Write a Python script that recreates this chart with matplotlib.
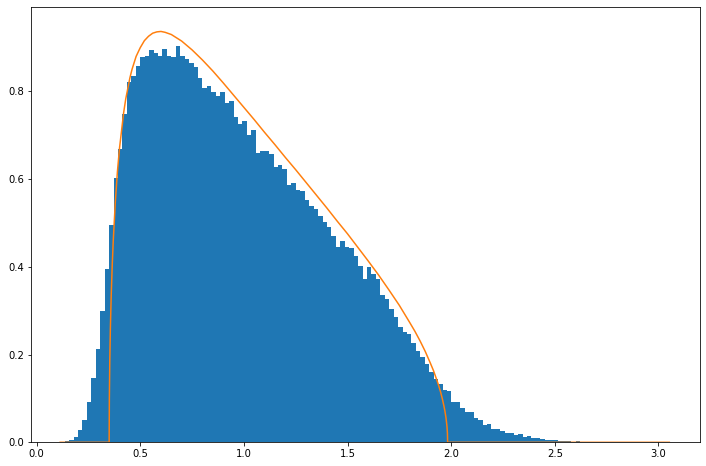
import numpy as np
import matplotlib
matplotlib.use("Agg")
import matplotlib.pyplot as plt

# Histogram: bin range and density heights
x_min = 0.1138
x_max = 3.0525
n_bins = 137
heights = [
    0.0005, 0.002, 0.005, 0.011, 0.028, 0.051, 0.092, 0.146, 0.212, 0.299,
    0.395, 0.495, 0.602, 0.668, 0.748, 0.820, 0.834, 0.857, 0.878, 0.880,
    0.894, 0.887, 0.880, 0.896, 0.880, 0.878, 0.903, 0.880, 0.874, 0.865,
    0.855, 0.831, 0.807, 0.811, 0.799, 0.788, 0.798, 0.773, 0.777, 0.740,
    0.725, 0.732, 0.700, 0.711, 0.659, 0.664, 0.664, 0.657, 0.627, 0.632,
    0.623, 0.586, 0.591, 0.575, 0.572, 0.552, 0.538, 0.531, 0.515, 0.502,
    0.490, 0.470, 0.444, 0.459, 0.445, 0.443, 0.424, 0.402, 0.372, 0.400,
    0.384, 0.371, 0.336, 0.326, 0.304, 0.285, 0.263, 0.251, 0.247, 0.226,
    0.208, 0.194, 0.178, 0.160, 0.144, 0.133, 0.119, 0.117, 0.092, 0.092,
    0.078, 0.069, 0.069, 0.055, 0.051, 0.039, 0.041, 0.030, 0.030, 0.026,
    0.021, 0.021, 0.017, 0.019, 0.013, 0.014, 0.010, 0.009, 0.0075, 0.006,
    0.005, 0.005, 0.002, 0.004, 0.002, 0.001, 0.004, 0.001, 0.0005, 0.001,
    0.0005, 0.001, 0.0005, 0.0005, 0.001, 0.0005, 0.0005, 0.0005, 0.0005, 0.0005,
    0.0005, 0.0005, 0.0005, 0.0005, 0.0005, 0.0005, 0.0005,
]

# Density curve points
curve_x = [0.1138, 0.350, 0.351, 0.353, 0.356, 0.360, 0.365, 0.370, 0.380, 0.390,
           0.400, 0.420, 0.430, 0.450, 0.460, 0.480, 0.500, 0.520, 0.540, 0.560,
           0.580, 0.600, 0.620, 0.650, 0.700, 0.750, 0.800, 0.850, 0.900, 0.950,
           1.000, 1.050, 1.100, 1.150, 1.200, 1.250, 1.300, 1.350, 1.400, 1.450,
           1.500, 1.550, 1.600, 1.650, 1.700, 1.750, 1.800, 1.825, 1.850, 1.875,
           1.900, 1.915, 1.930, 1.940, 1.950, 1.958, 1.965, 1.970, 1.975, 1.978,
           1.980, 1.982, 1.983, 3.0525]
curve_y = [0.0, 0.0, 0.098, 0.183, 0.261, 0.335, 0.405, 0.461, 0.549, 0.617,
           0.670, 0.751, 0.782, 0.830, 0.849, 0.879, 0.899, 0.915, 0.925, 0.932,
           0.935, 0.936, 0.934, 0.929, 0.914, 0.894, 0.871, 0.846, 0.819, 0.791,
           0.763, 0.735, 0.706, 0.678, 0.649, 0.621, 0.592, 0.563, 0.534, 0.504,
           0.475, 0.444, 0.413, 0.381, 0.347, 0.312, 0.273, 0.253, 0.231, 0.207,
           0.180, 0.163, 0.143, 0.129, 0.113, 0.098, 0.083, 0.071, 0.056, 0.044,
           0.035, 0.021, 0.0, 0.0]

fig = plt.figure(figsize=(706 / 72, 466 / 72), dpi=72)
ax = fig.add_axes([31 / 706, (466 - 442.3) / 466, (700.3 - 31) / 706, (442.3 - 7.3) / 466])

edges = np.linspace(x_min, x_max, n_bins + 1)
ax.hist(edges[:-1], bins=edges, weights=heights, color="#1f77b4")
ax.plot(curve_x, curve_y, color="#ff7f0e", linewidth=1.5)

ax.set_xlim(-0.027, 3.202)
ax.set_ylim(0, 0.991)
ax.set_xticks([0.0, 0.5, 1.0, 1.5, 2.0, 2.5, 3.0])
ax.set_yticks([0.0, 0.2, 0.4, 0.6, 0.8])
ax.tick_params(labelsize=10)

fig.savefig("out.png", dpi=72)
